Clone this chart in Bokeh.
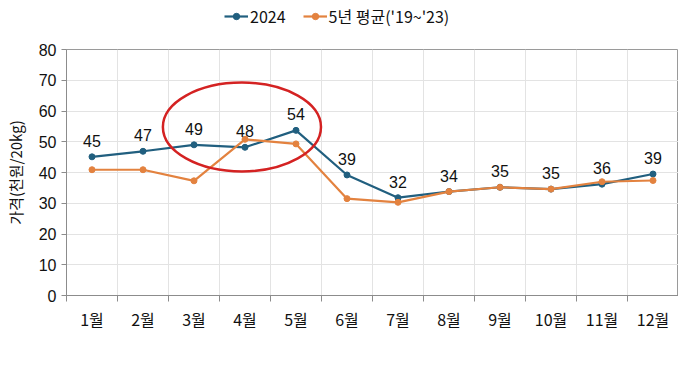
from bokeh.plotting import figure
from bokeh.layouts import column
from bokeh.models import (Range1d, FixedTicker, Legend, LegendItem, ColumnDataSource,
                          LabelSet, CustomJSTickFormatter)
from bokeh.core.properties import value
from bokeh.embed import file_html
from bokeh.resources import INLINE

months = ["1월", "2월", "3월", "4월", "5월", "6월", "7월", "8월", "9월", "10월", "11월", "12월"]
price_2024 = [45.1, 46.9, 49.0, 48.2, 53.7, 39.2, 31.8, 33.8, 35.2, 34.6, 36.2, 39.5]
labels_2024 = ["45", "47", "49", "48", "54", "39", "32", "34", "35", "35", "36", "39"]
price_5yr = [40.9, 40.9, 37.3, 50.8, 49.3, 31.5, 30.3, 33.8, 35.2, 34.6, 37.0, 37.4]
y_ticks = [0, 10, 20, 30, 40, 50, 60, 70, 80]
series_names = ["2024", "5년 평균('19~'23)"]

# highlight ellipse (data units)
ell_x, ell_y, ell_w, ell_h = 3.94, 54.8, 3.1, 28.9

BLUE = "#215f7f"
ORANGE = "#e3823f"
GRID = "#e3e3e3"
AXIS = "#8c8c8c"
KR = "Noto Sans CJK KR"
NUM = "Liberation Sans"

xs = list(range(1, len(months) + 1))
src = ColumnDataSource(dict(x=xs, a=price_2024, b=price_5yr, lab=labels_2024))

# ---- legend strip ----
lg = figure(width=678, height=40, output_backend="svg", toolbar_location=None,
            x_range=Range1d(0, 1), y_range=Range1d(0, 1),
            min_border_left=0, min_border_right=0, min_border_top=0, min_border_bottom=0)
lg.axis.visible = False
lg.grid.visible = False
lg.outline_line_color = None
lg.border_fill_color = "white"
hidden_x = [-10, -9]
hidden_y = [-10, -9]
d1 = lg.line(x=hidden_x, y=hidden_y, line_color=BLUE, line_width=2.2)
e1 = lg.scatter(x=hidden_x, y=hidden_y, size=6, fill_color=BLUE, line_color=BLUE)
d2 = lg.line(x=hidden_x, y=hidden_y, line_color=ORANGE, line_width=2.2)
e2 = lg.scatter(x=hidden_x, y=hidden_y, size=6, fill_color=ORANGE, line_color=ORANGE)
legend = Legend(items=[LegendItem(label=series_names[0], renderers=[d1, e1]),
                       LegendItem(label=series_names[1], renderers=[d2, e2])],
                orientation="horizontal", location=(158, 12),
                label_text_font=KR, label_text_font_size="16px", label_text_color="#111111",
                glyph_width=24, glyph_height=16, label_height=16, label_standoff=2,
                spacing=17, padding=0, margin=0,
                border_line_color=None, background_fill_alpha=0)
lg.add_layout(legend)

# ---- main chart ----
p = figure(width=678, height=300, output_backend="svg", toolbar_location=None,
           x_range=Range1d(0.5, len(months) + 0.5), y_range=Range1d(0, 80),
           min_border_left=66, min_border_right=0, min_border_top=9, min_border_bottom=45)
p.background_fill_color = "white"
p.border_fill_color = "white"
p.outline_line_color = "#9a9a9a"
p.outline_line_width = 1

bounds = [i + 0.5 for i in range(len(months) + 1)]
p.xaxis.ticker = FixedTicker(ticks=xs, minor_ticks=bounds)
p.xaxis.formatter = CustomJSTickFormatter(args=dict(labels=months),
                                          code="return labels[Math.round(tick) - 1];")
p.xaxis.major_tick_line_color = None
p.xaxis.minor_tick_line_color = AXIS
p.xaxis.minor_tick_in = 0
p.xaxis.minor_tick_out = 6
p.xaxis.axis_line_color = AXIS
p.xaxis.major_label_text_font = KR
p.xaxis.major_label_text_font_size = "16px"
p.xaxis.major_label_text_font_style = "normal"
p.xaxis.major_label_text_color = "#111111"
p.xaxis.major_label_standoff = 5
p.xgrid.ticker = FixedTicker(ticks=bounds)
p.xgrid.grid_line_color = GRID

p.yaxis.ticker = FixedTicker(ticks=y_ticks)
p.yaxis.axis_line_color = AXIS
p.yaxis.major_tick_line_color = AXIS
p.yaxis.major_tick_in = 0
p.yaxis.major_tick_out = 5
p.yaxis.minor_tick_line_color = None
p.yaxis.major_label_text_font = NUM
p.yaxis.major_label_text_font_size = "16px"
p.yaxis.major_label_text_color = "#111111"
p.yaxis.axis_label = "가격(천원/20kg)"
p.yaxis.axis_label_text_font = KR
p.yaxis.axis_label_text_font_style = "normal"
p.yaxis.axis_label_text_font_size = "15px"
p.yaxis.axis_label_text_color = "#111111"
p.yaxis.axis_label_standoff = 10
p.ygrid.grid_line_color = GRID

p.line("x", "a", source=src, line_color=BLUE, line_width=2.2)
p.scatter("x", "a", source=src, size=6, fill_color=BLUE, line_color=BLUE)
p.line("x", "b", source=src, line_color=ORANGE, line_width=2.2)
p.scatter("x", "b", source=src, size=6, fill_color=ORANGE, line_color=ORANGE)

labels = LabelSet(x="x", y="a", text="lab", source=src, text_align="center",
                  text_baseline="bottom", y_offset=10, text_font=value(NUM),
                  text_font_size="16px", text_color="#111111")
p.add_layout(labels)

p.ellipse(x=[ell_x], y=[ell_y], width=[ell_w], height=[ell_h], fill_color=None,
          line_color="#d42222", line_width=2.5)

layout = column(lg, p, spacing=0)
open("out.html", "w").write(file_html(layout, INLINE))
